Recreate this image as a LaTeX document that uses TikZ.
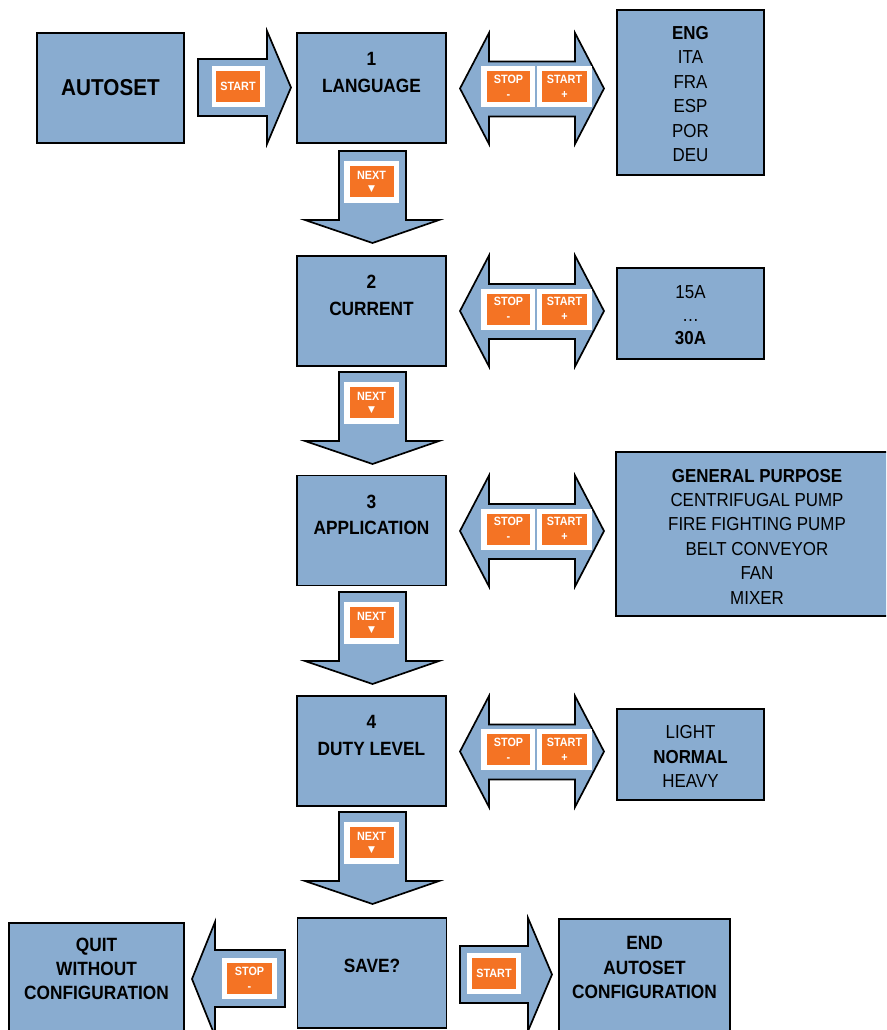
\documentclass[tikz,border=0pt]{standalone}
\usepackage{fontspec}
\setmainfont[FakeStretch=0.9]{Liberation Sans}
\newfontfamily\symfont{DejaVu Sans}
\definecolor{boxblue}{RGB}{137,172,208}
\definecolor{btnorange}{RGB}{244,115,36}
\tikzset{
  blk/.style={draw=black, line width=1.7pt, fill=boxblue},
  mainbox/.style={blk, minimum width=149pt, minimum height=110pt, inner sep=0pt},
  lbl/.style={font=\bfseries\fontsize{19.2}{26.5}\selectfont, align=center, inner sep=0pt},
  endlbl/.style={font=\bfseries\fontsize{19.2}{24.3}\selectfont, align=center, inner sep=0pt},
  optbox/.style={blk, inner sep=0pt},
  opttext/.style={font=\fontsize{18.8}{24.4}\selectfont, align=center, inner sep=0pt},
  arrowshape/.style={draw=black, line width=1.7pt, fill=boxblue, line join=miter},
  whitebtn/.style={fill=white, draw=none, inner sep=0pt},
  orangebtn/.style={fill=btnorange, text=white, font=\bfseries\fontsize{12}{15}\selectfont, align=center, inner sep=0pt},
}
\newcommand\dblarrow[2]{%
  \draw[arrowshape] (460,#1) -- (489,#1-55.5) -- (489,#1-27) -- (575,#1-27) -- (575,#1-55.5) -- (604,#1)
    -- (575,#1+55.5) -- (575,#1+28) -- (489,#1+28) -- (489,#1+55.5) -- cycle;
  \node[whitebtn, minimum width=54pt, minimum height=41pt] (wstop#2) at (508,#1-2) {};
  \node[whitebtn, minimum width=55pt, minimum height=41pt] (wstart#2) at (564.5,#1-2) {};
  \node[orangebtn, minimum width=43pt, minimum height=31pt] (stop#2) at (508.5,#1-2) {STOP\\-};
  \node[orangebtn, minimum width=45pt, minimum height=31pt] (start#2) at (564.5,#1-2) {START\\+};
}
\newcommand\nextarrow[2]{%
  \draw[arrowshape] (339,#1) -- (406,#1) -- (406,#1+69) -- (439,#1+69) -- (372.5,#1+92) -- (305,#1+69) -- (339,#1+69) -- cycle;
  \node[whitebtn, minimum width=55pt, minimum height=42pt] (wnext#2) at (371.5,#1+31) {};
  \node[orangebtn, minimum width=44pt, minimum height=31pt] (next#2) at (371.5,#1+30.5) {NEXT\\[-3pt]{\symfont\fontsize{9}{9}\selectfont ▼}};
}
\begin{document}
\begin{tikzpicture}[x=1pt,y=-1pt]
\useasboundingbox (0,0) rectangle (886,1030);
\clip (0,0) rectangle (886,1030);

% AUTOSET
\node[mainbox, minimum width=147pt] (autoset) at (110.5,88) {};
\node[lbl, font=\bfseries\fontsize{23}{26}\selectfont] (autosetlbl) at (110.5,88) {AUTOSET};

% START arrow into LANGUAGE
\draw[arrowshape] (198,59) -- (267,59) -- (267,31) -- (291,87.5) -- (267,144) -- (267,116) -- (198,116) -- cycle;
\node[whitebtn, minimum width=53pt, minimum height=41pt] (wstart0) at (238.5,86.5) {};
\node[orangebtn, minimum width=44pt, minimum height=31pt] (start0) at (238,86.5) {START};

% Main boxes
\node[mainbox] (b1) at (371.5,88) {};
\node[lbl] (b1l) at (371.5,72.5) {1\\LANGUAGE};
\node[mainbox] (b2) at (371.5,311) {};
\node[lbl] (b2l) at (371.5,295.5) {2\\CURRENT};
\node[mainbox] (b3) at (371.5,530.5) {};
\node[lbl] (b3l) at (371.5,515) {3\\APPLICATION};
\node[mainbox] (b4) at (371.5,751) {};
\node[lbl] (b4l) at (371.5,735.5) {4\\DUTY LEVEL};
\node[mainbox, minimum height=110pt] (save) at (372,973) {};
\node[lbl] (savel) at (372,966) {SAVE?};

% Double arrows
\dblarrow{88.5}{1}
\dblarrow{311}{2}
\dblarrow{531}{3}
\dblarrow{751.5}{4}

% NEXT arrows
\nextarrow{151}{1}
\nextarrow{372}{2}
\nextarrow{592}{3}
\nextarrow{812}{4}

% Option boxes
\node[optbox, minimum width=147pt, minimum height=165pt] (o1) at (690.5,92.5) {};
\node[opttext] (o1t) at (690.5,94) {\textbf{ENG}\\ITA\\FRA\\ESP\\POR\\DEU};
\node[optbox, minimum width=147pt, minimum height=91pt] (o2) at (690.5,313.5) {};
\node[opttext, font=\fontsize{18.8}{23}\selectfont] (o2t) at (690.5,315) {15A\\…\\\textbf{30A}};
\node[optbox, minimum width=274pt, minimum height=164pt] (o3) at (753,534) {};
\node[opttext] (o3t) at (757,536.5) {\textbf{GENERAL PURPOSE}\\CENTRIFUGAL PUMP\\FIRE FIGHTING PUMP\\BELT CONVEYOR\\FAN\\MIXER};
\node[optbox, minimum width=147pt, minimum height=91pt] (o4) at (690.5,754.5) {};
\node[opttext] (o4t) at (690.5,756.5) {LIGHT\\\textbf{NORMAL}\\HEAVY};

% STOP arrow to QUIT
\draw[arrowshape] (285,950) -- (215,950) -- (215,922) -- (192,979) -- (215,1036) -- (215,1007) -- (285,1007) -- cycle;
\node[whitebtn, minimum width=55pt, minimum height=41pt] (wstop5) at (249.5,978.5) {};
\node[orangebtn, minimum width=45pt, minimum height=31pt] (stop5) at (249.5,978.5) {STOP\\-};
\node[blk, minimum width=175pt, minimum height=120pt, inner sep=0pt] (quit) at (96.5,983) {};
\node[endlbl] (quitl) at (96.5,969) {QUIT\\WITHOUT\\CONFIGURATION};

% START arrow to END
\draw[arrowshape] (460,946) -- (528,946) -- (528,918) -- (552,974.5) -- (528,1031) -- (528,1003) -- (460,1003) -- cycle;
\node[whitebtn, minimum width=54pt, minimum height=41pt] (wstart5) at (494,973.5) {};
\node[orangebtn, minimum width=44pt, minimum height=31pt] (start5) at (494,973.5) {START};
\node[blk, minimum width=171pt, minimum height=120pt, inner sep=0pt] (endb) at (644.5,979) {};
\node[endlbl] (endl) at (644.5,967.5) {END\\AUTOSET\\CONFIGURATION};
\end{tikzpicture}
\end{document}
